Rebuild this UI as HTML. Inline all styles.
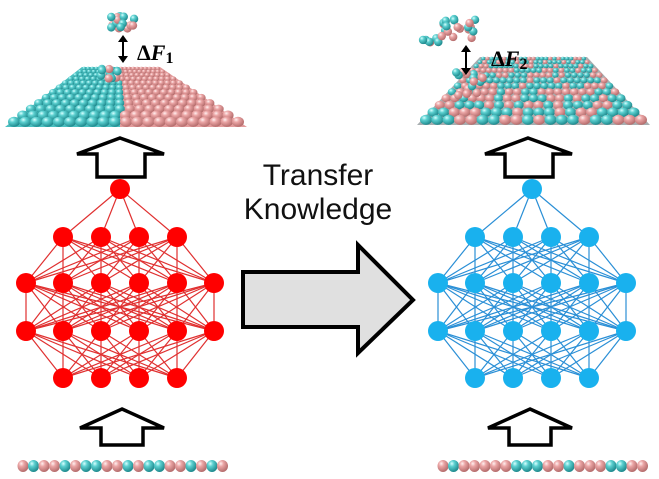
<!DOCTYPE html>
<html><head><meta charset="utf-8"><style>
html,body{margin:0;padding:0;background:#fff;width:659px;height:479px;overflow:hidden}
svg{display:block}
</style></head><body>
<svg id="s" width="659" height="479" viewBox="0 0 659 479" xmlns="http://www.w3.org/2000/svg">
<defs>
<radialGradient id="gt" cx="0.35" cy="0.3" r="0.7"><stop offset="0" stop-color="#d8ffff"/><stop offset="0.35" stop-color="#5cd0d0"/><stop offset="1" stop-color="#1f8a8e"/></radialGradient>
<radialGradient id="gp" cx="0.35" cy="0.3" r="0.7"><stop offset="0" stop-color="#fff0f0"/><stop offset="0.35" stop-color="#eba5a5"/><stop offset="1" stop-color="#b56d6d"/></radialGradient>
</defs>
<polygon points="82,67 120,67 120,127 5,127" fill="#4cbfc0"/>
<polygon points="120,67 160,67 247,127 120,127" fill="#e39c9c"/>
<polygon points="480,57 587,57 650,125 417,125" fill="#a8aeb0"/>
<g id="surf"></g>
<g stroke="#000" stroke-width="2" fill="#000">
<line x1="123" y1="40" x2="123" y2="58"/><polygon points="118,42 128,42 123,35" stroke="none"/><polygon points="118,56 128,56 123,63" stroke="none"/>
<line x1="466" y1="50" x2="466" y2="70"/><polygon points="461,52 471,52 466,45" stroke="none"/><polygon points="461,68 471,68 466,75" stroke="none"/>
</g>
<text x="137" y="60" font-family="Liberation Serif,serif" font-weight="bold" font-size="22">Δ<tspan font-style="italic">F</tspan><tspan font-size="16" dy="3">1</tspan></text>
<text x="491" y="66" font-family="Liberation Serif,serif" font-weight="bold" font-size="22">Δ<tspan font-style="italic">F</tspan><tspan font-size="16" dy="3">2</tspan></text>
<g fill="#fff" stroke="#000" stroke-width="3.5" stroke-linejoin="miter">
<polygon points="120,138 164,154 145,154 145,177 97,177 97,154 77,154"/>
<polygon points="528,138 572,154 553,154 553,177 505,177 505,154 485,154"/>
<polygon points="122,409 164,428 143,428 143,445 101,445 101,428 80,428"/>
<polygon points="530,409 572,428 551,428 551,445 509,445 509,428 488,428"/>
</g>
<polygon points="243,272 358,272 358,245 413,300 358,353 358,327 243,327" fill="#e0e0e0" stroke="#000" stroke-width="4"/>
<text x="318" y="185" text-anchor="middle" font-family="Liberation Sans,sans-serif" font-size="30" fill="#111">Transfer</text>
<text x="318" y="219" text-anchor="middle" font-family="Liberation Sans,sans-serif" font-size="30" fill="#111">Knowledge</text>
<g id="nets"></g>
<g id="chains"></g>
</svg>
<script>
var NS="http://www.w3.org/2000/svg";
function el(p,t,a){var e=document.createElementNS(NS,t);for(var k in a)e.setAttribute(k,a[k]);p.appendChild(e);return e;}
var nets=document.getElementById('nets');
var layers=[[{y:189,xs:[120]}],[{y:237,xs:[63,101,139,177]}],[{y:283,xs:[26,63,101,139,177,214]}],[{y:331,xs:[26,63,101,139,177,214]}],[{y:378,xs:[63,101,139,177]}]];
function net(dx,line,fill){
 var g=el(nets,'g',{});
 for(var i=0;i<layers.length-1;i++){var a=layers[i][0],b=layers[i+1][0];
  a.xs.forEach(function(x1){b.xs.forEach(function(x2){el(g,'line',{x1:x1+dx,y1:a.y,x2:x2+dx,y2:b.y,stroke:line,'stroke-width':1.2});});});}
 layers.forEach(function(L){L[0].xs.forEach(function(x){el(g,'circle',{cx:x+dx,cy:L[0].y,r:10,fill:fill});});});
}
net(0,'#e03030','#ff0000');
net(412,'#2a8fd6','#19b1ee');
var surf=document.getElementById('surf');
var seed=7;function rnd(){seed=(seed*9301+49297)%233280;return seed/233280;}
function surface(yt,yb,xtl,xtr,xbl,xbr,colfn){
 var N=11;
 for(var r=0;r<=N;r++){var t=r/N;t=t*t*0.4+t*0.6;
  var y=yt+(yb-yt)*t,xl=xtl+(xbl-xtl)*t,xr=xtr+(xbr-xtr)*t;
  var rad=2.2+3.8*t;var n=Math.round((xr-xl)/(rad*1.9));
  for(var c=0;c<n;c++){var x=xl+rad+(xr-xl-2*rad)*c/(n-1||1);
   el(surf,'ellipse',{cx:x,cy:y-rad*0.2,rx:rad,ry:rad*0.85,fill:colfn(x,y,c,r)?'url(#gt)':'url(#gp)'});}}
}
surface(69,123,82,160,8,244,function(x){return x<120;});
surface(59,121,481,586,420,647,function(x,y,c,r){if(x<450&&y>108)return true;if(x<480&&x>450&&y>108)return false;return rnd()<0.5;});
function cluster(cx,cy,n,sx,sy){for(var i=0;i<n;i++){el(surf,'circle',{cx:cx+(rnd()-0.5)*sx,cy:cy+(rnd()-0.5)*sy,r:4.2,fill:rnd()<0.5?'url(#gt)':'url(#gp)'});}}
cluster(122,22,16,26,14);cluster(110,76,12,20,14);
cluster(460,28,18,34,20);cluster(440,40,8,36,8);cluster(470,84,16,28,24);
var ch=document.getElementById('chains');
var p1=[0,1,0,0,1,0,1,1,0,0,1,0,1,1,0,0,1,0,1,0],p2=[0,1,0,0,0,0,0,1,1,1,0,0,1,0,0,0,1,1,0,0];
function chain(x0,p){p.forEach(function(v,i){el(ch,'ellipse',{cx:x0+i*10.5,cy:466,rx:5.5,ry:6,fill:v?'url(#gt)':'url(#gp)'});});}
chain(23,p1);chain(443,p2);
</script>
</body></html>
